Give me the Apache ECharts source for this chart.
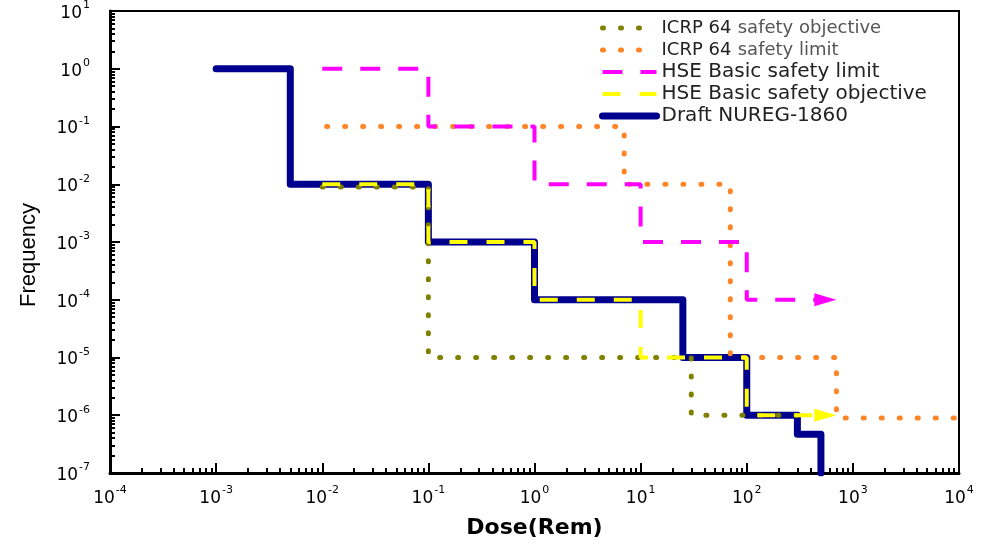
<!DOCTYPE html>
<html>
<head>
<meta charset="utf-8">
<script src="https://cdn.jsdelivr.net/npm/echarts@6/dist/echarts.min.js"></script>
<style>
  html, body { margin: 0; padding: 0; background: #fff; }
  #chart { width: 981px; height: 544px; }
</style>
</head>
<body>
<div id="chart"></div>
<script>
// step corners (dose in Rem, frequency per year)
const nuregDose = [1e-3, 5e-3, 0.1, 1, 25, 100, 300, 500];
const nuregFreq = [1, 1e-2, 1e-3, 1e-4, 1e-5, 1e-6, 4.7e-7, 1e-7];

const hseLimitDose = [0.01, 0.1, 1, 10, 100, 550];
const hseLimitFreq = [1, 0.1, 1e-2, 1e-3, 1e-4, 1e-4];

const hseObjDose = [0.01, 0.1, 1, 10, 100, 550];
const hseObjFreq = [1e-2, 1e-3, 1e-4, 1e-5, 1e-6, 1e-6];

const icrpObjDose = [0.01, 0.1, 30, 300];
const icrpObjFreq = [0.009, 1e-5, 1e-6, 1e-6];

const icrpLimitDose = [0.011, 7, 70, 700, 1e4];
const icrpLimitFreq = [0.1, 1e-2, 1e-5, 9e-7, 9e-7];

const legendNames = [
  'ICRP 64 safety objective',
  'ICRP 64 safety limit',
  'HSE Basic safety limit',
  'HSE Basic safety objective',
  'Draft NUREG-1860'
];

// axis range
const doseMin = 1e-4, doseMax = 1e4;
const freqMin = 1e-7, freqMax = 10;

// minor ticks at 2..9 of each decade
function minorTicks(lo, hi) {
  const out = [];
  for (let e = Math.round(Math.log10(lo)); e < Math.round(Math.log10(hi)); e++) {
    for (let k = 2; k <= 9; k++) out.push(k * Math.pow(10, e));
  }
  return out;
}

function pairs(xs, ys, arrow) {
  return xs.map((x, i) => {
    if (arrow && i === xs.length - 1) {
      return {
        value: [x, ys[i]],
        symbol: 'triangle',
        symbolRotate: -90,
        symbolSize: [13, 22]
      };
    }
    return [x, ys[i]];
  });
}

const FONT = 'DejaVu Sans';

const powLabel = {
  formatter: v => '{b|10}{s|' + Math.round(Math.log10(v)) + '}',
  rich: {
    b: { fontFamily: FONT, fontSize: 17, color: '#000', lineHeight: 22, verticalAlign: 'bottom' },
    s: { fontFamily: FONT, fontSize: 11, color: '#000', lineHeight: 22, verticalAlign: 'top', padding: [0, 0, 0, 1] }
  }
};

const chart = echarts.init(document.getElementById('chart'), null, { renderer: 'canvas' });

const option = {
  animation: false,
  backgroundColor: '#fff',
  grid: {
    left: 110, right: 22, top: 11, bottom: 68,
    show: true, borderColor: '#000', borderWidth: 2, backgroundColor: 'transparent'
  },
  legend: {
    data: legendNames,
    orient: 'vertical',
    left: 594, top: 12,
    itemWidth: 54, itemHeight: 14, itemGap: 0,
    itemStyle: { opacity: 0 },
    lineStyle: { width: 'inherit' },
    formatter: name => {
      if (name.indexOf('ICRP 64 ') === 0) {
        return '{a|ICRP 64} {g|' + name.slice(8) + '}';
      }
      return name;
    },
    textStyle: {
      fontFamily: FONT, fontSize: 20, color: '#222', lineHeight: 22,
      rich: {
        a: { fontFamily: FONT, fontSize: 18, color: '#222', lineHeight: 22 },
        g: { fontFamily: FONT, fontSize: 18, color: '#555', lineHeight: 22 }
      }
    }
  },
  xAxis: [
    {
      type: 'log', logBase: 10, min: doseMin, max: doseMax, interval: 1,
      name: 'Dose(Rem)', nameLocation: 'middle', nameGap: 44,
      nameTextStyle: { fontFamily: FONT, fontSize: 22, fontWeight: 'bold', color: '#000' },
      axisLine: { lineStyle: { color: '#000', width: 3 } },
      axisTick: { inside: true, length: 10, lineStyle: { color: '#000', width: 2 } },
      axisLabel: Object.assign({ margin: 12 }, powLabel),
      splitLine: { show: false }
    },
    {
      type: 'log', logBase: 10, min: doseMin, max: doseMax, position: 'bottom',
      axisLine: { show: false },
      axisTick: { inside: true, length: 5, customValues: minorTicks(doseMin, doseMax), lineStyle: { color: '#000', width: 2 } },
      axisLabel: { show: false },
      splitLine: { show: false }
    }
  ],
  yAxis: [
    {
      type: 'log', logBase: 10, min: freqMin, max: freqMax, interval: 1,
      name: 'Frequency', nameLocation: 'middle', nameGap: 70,
      nameTextStyle: { fontFamily: 'Liberation Sans', fontSize: 22, color: '#000', padding: [0, 26, 0, 0] },
      axisLine: { lineStyle: { color: '#000', width: 3 } },
      axisTick: { inside: true, length: 10, lineStyle: { color: '#000', width: 2 } },
      axisLabel: Object.assign({ margin: 20 }, powLabel),
      splitLine: { show: false }
    },
    {
      type: 'log', logBase: 10, min: freqMin, max: freqMax, position: 'left',
      axisLine: { show: false },
      axisTick: { inside: true, length: 5, customValues: minorTicks(freqMin, freqMax), lineStyle: { color: '#000', width: 2 } },
      axisLabel: { show: false },
      splitLine: { show: false }
    }
  ],
  series: [
    {
      name: 'Draft NUREG-1860', type: 'line', step: 'end',
      symbol: 'none', z: 2,
      data: pairs(nuregDose, nuregFreq, false),
      lineStyle: { color: '#00008f', width: 7, join: 'round', cap: 'round' },
      itemStyle: { color: '#00008f' }
    },
    {
      name: 'ICRP 64 safety objective', type: 'line', step: 'end',
      symbol: 'none', z: 3,
      data: pairs(icrpObjDose, icrpObjFreq, false),
      lineStyle: { color: '#808000', width: 5, type: [1, 17], cap: 'round' },
      itemStyle: { color: '#808000' }
    },
    {
      name: 'ICRP 64 safety limit', type: 'line', step: 'end',
      symbol: 'none', z: 3,
      data: pairs(icrpLimitDose, icrpLimitFreq, false),
      lineStyle: { color: '#ff8426', width: 5, type: [1, 17], cap: 'round' },
      itemStyle: { color: '#ff8426' }
    },
    {
      name: 'HSE Basic safety limit', type: 'line', step: 'end',
      symbol: 'none', showSymbol: true, z: 4,
      data: pairs(hseLimitDose, hseLimitFreq, true),
      lineStyle: { color: '#ff00ff', width: 4, type: [20, 18] },
      itemStyle: { color: '#ff00ff' }
    },
    {
      name: 'HSE Basic safety objective', type: 'line', step: 'end',
      symbol: 'none', showSymbol: true, z: 5,
      data: pairs(hseObjDose, hseObjFreq, true),
      lineStyle: { color: '#ffff00', width: 4, type: [18, 19] },
      itemStyle: { color: '#ffff00' }
    }
  ]
};

chart.setOption(option);
</script>
</body>
</html>
